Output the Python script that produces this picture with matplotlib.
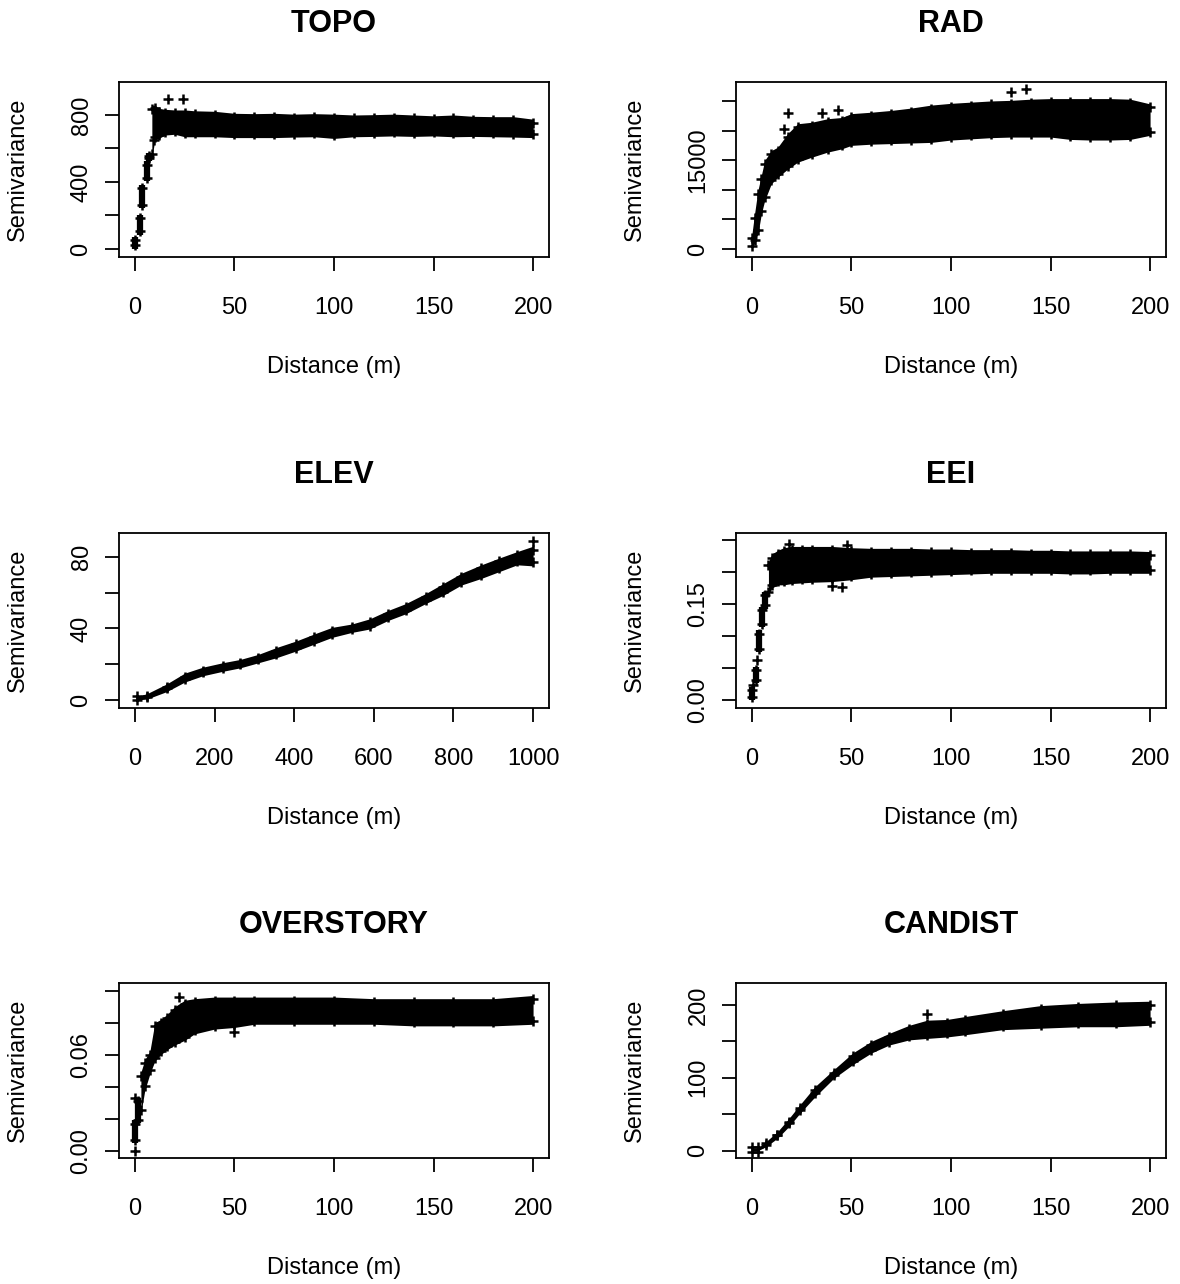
import matplotlib
matplotlib.use("Agg")
import matplotlib.pyplot as plt
from matplotlib.transforms import ScaledTranslation

plt.rcParams['font.family'] = ['Liberation Sans', 'DejaVu Sans']

# ---- data ----------------------------------------------------------------
# each panel: dense band (lower/upper edge of the point cloud),
# discrete lag clusters near the origin, and a few isolated points

# TOPO
topo_band_d = [8.5, 10, 12, 15, 20, 25, 30, 40, 50, 60, 70, 80, 90, 100, 110, 120,
               130, 140, 150, 160, 170, 180, 190, 200]
topo_band_lo = [544, 650, 660, 680, 685, 670, 670, 670, 665, 665, 665, 668, 670, 660,
                670, 672, 675, 672, 675, 670, 672, 670, 668, 665]
topo_band_hi = [854, 860, 840, 834, 830, 830, 825, 822, 810, 808, 810, 805, 808, 805,
                800, 802, 805, 800, 795, 800, 792, 790, 790, 775]
topo_bar_d = [0, 2.5, 3.7, 5.9, 7.2]
topo_bar_lo = [0, 84, 244, 404, 524]
topo_bar_hi = [74, 204, 384, 524, 574]
topo_out_d = [16.8, 23.9, 9.7]
topo_out_y = [894, 894, 650]

# RAD
rad_band_d = [0, 1.3, 3, 4.7, 6.4, 9.7, 13, 18, 23, 30, 38, 45, 50, 60, 70, 80, 90,
              100, 110, 120, 130, 140, 150, 160, 170, 180, 190, 200]
rad_band_lo = [0, 1000, 2540, 5900, 8180, 11000, 12130, 13500, 14660, 15500, 16360,
               16900, 17500, 17700, 17800, 17900, 18000, 18400, 18600, 18800, 18900,
               18900, 18900, 18500, 18400, 18400, 18500, 19200]
rad_band_hi = [2500, 5900, 9900, 12400, 14950, 16600, 17200, 19500, 21150, 21400,
               22000, 22200, 22860, 23100, 23400, 23800, 24300, 24600, 24800, 25000,
               25100, 25300, 25400, 25400, 25400, 25400, 25300, 24500]
rad_out_d = [16, 18, 35, 43, 130, 137.5]
rad_out_y = [20300, 23000, 23000, 23500, 26500, 27100]

# ELEV
elev_band_d = [5, 30, 80, 125, 170, 220, 265, 310, 355, 405, 450, 495, 545, 590, 635,
               680, 730, 775, 820, 870, 915, 960, 1000]
elev_band_lo = [0, 0.5, 4.7, 10.0, 13.5, 16, 18, 20.8, 23.6, 27.4, 31.2, 35, 37.8,
                39.7, 44.4, 48.2, 53.9, 58.6, 64.3, 68, 71.8, 75.6, 75]
elev_band_hi = [2, 3.5, 9.0, 15.0, 18.3, 20.8, 22.7, 25.5, 29.3, 33, 36.9, 40.6, 42.5,
                45.4, 50, 53.9, 59.5, 65.2, 70.9, 75.6, 79.4, 83, 86]
elev_out_d = [1000]
elev_out_y = [88.8]

# EEI
eei_band_d = [8.3, 10, 13, 16, 20, 25, 30, 40, 50, 60, 70, 80, 90, 100, 110, 120, 130,
              140, 150, 160, 170, 180, 190, 200]
eei_band_lo = [0.164, 0.175, 0.180, 0.180, 0.182, 0.183, 0.184, 0.185, 0.188, 0.192,
               0.193, 0.194, 0.195, 0.196, 0.197, 0.198, 0.198, 0.198, 0.198, 0.197,
               0.197, 0.198, 0.198, 0.198]
eei_band_hi = [0.216, 0.228, 0.234, 0.238, 0.240, 0.240, 0.240, 0.240, 0.238, 0.237,
               0.237, 0.237, 0.236, 0.236, 0.235, 0.235, 0.235, 0.234, 0.234, 0.233,
               0.233, 0.233, 0.233, 0.232]
eei_bar_d = [0, 2.2, 3.6, 5.0, 6.7]
eei_bar_lo = [0.0, 0.026, 0.075, 0.114, 0.143]
eei_bar_hi = [0.021, 0.052, 0.109, 0.146, 0.169]
eei_out_d = [2.5, 0.5, 18.5, 48, 40, 45]
eei_out_y = [0.0625, 0.023, 0.244, 0.243, 0.178, 0.176]

# OVERSTORY
over_band_d = [3, 5, 7.5, 10, 13, 16, 20, 25, 30, 40, 50, 60, 80, 100, 120, 140, 160,
               180, 200]
over_band_lo = [0.0235, 0.038, 0.048, 0.056, 0.060, 0.063, 0.066, 0.069, 0.073, 0.076,
                0.077, 0.079, 0.079, 0.079, 0.079, 0.078, 0.078, 0.078, 0.079]
over_band_hi = [0.049, 0.057, 0.062, 0.080, 0.082, 0.085, 0.090, 0.094, 0.095, 0.096,
                0.096, 0.096, 0.096, 0.096, 0.095, 0.095, 0.095, 0.095, 0.097]
over_bar_d = [0, 1.5]
over_bar_lo = [0.0046, 0.017]
over_bar_hi = [0.019, 0.033]
over_out_d = [0, 0, 22, 50]
over_out_y = [0.0, 0.033, 0.096, 0.074]

# CANDIST
cand_band_d = [0, 3, 7, 12.8, 18.5, 24, 31.7, 41, 50.6, 60, 69, 79, 88, 98, 107, 126,
               145, 164, 183, 200]
cand_band_lo = [0, 0, 5.5, 17, 33, 51, 74, 99, 118, 134, 145, 152, 154, 156, 159, 166,
                168, 170, 170, 172]
cand_band_hi = [3, 3, 12.4, 26, 44, 62.7, 88, 111, 134, 150, 161, 172, 179, 180, 184,
                192, 199, 202, 204, 205]
cand_out_d = [88]
cand_out_y = [187]

# axes ticks
dist_ticks = [0, 50, 100, 150, 200]
elev_dist_ticks = [0, 200, 400, 600, 800, 1000]
topo_yticks = [0, 200, 400, 600, 800]
topo_ylabels = ['0', '', '400', '', '800']
rad_yticks = [0, 5000, 10000, 15000, 20000, 25000]
rad_ylabels = ['0', '', '', '15000', '', '']
elev_yticks = [0, 20, 40, 60, 80]
elev_ylabels = ['0', '', '40', '', '80']
eei_yticks = [0, 0.05, 0.10, 0.15, 0.20, 0.25]
eei_ylabels = ['0.00', '', '', '0.15', '', '']
over_yticks = [0, 0.02, 0.04, 0.06, 0.08, 0.10]
over_ylabels = ['0.00', '', '', '0.06', '', '']
cand_yticks = [0, 50, 100, 150, 200]
cand_ylabels = ['0', '', '100', '', '200']

panels = [
    dict(title='TOPO', band=(topo_band_d, topo_band_lo, topo_band_hi),
         bars=(topo_bar_d, topo_bar_lo, topo_bar_hi), out=(topo_out_d, topo_out_y),
         xlim=(-8, 208), ylim=(-48, 997), xt=dist_ticks, yt=topo_yticks, yl=topo_ylabels),
    dict(title='RAD', band=(rad_band_d, rad_band_lo, rad_band_hi),
         bars=None, out=(rad_out_d, rad_out_y),
         xlim=(-8, 208), ylim=(-1350, 28200), xt=dist_ticks, yt=rad_yticks, yl=rad_ylabels),
    dict(title='ELEV', band=(elev_band_d, elev_band_lo, elev_band_hi),
         bars=None, out=(elev_out_d, elev_out_y),
         xlim=(-40, 1040), ylim=(-4.5, 93.4), xt=elev_dist_ticks, yt=elev_yticks, yl=elev_ylabels),
    dict(title='EEI', band=(eei_band_d, eei_band_lo, eei_band_hi),
         bars=(eei_bar_d, eei_bar_lo, eei_bar_hi), out=(eei_out_d, eei_out_y),
         xlim=(-8, 208), ylim=(-0.0125, 0.261), xt=dist_ticks, yt=eei_yticks, yl=eei_ylabels),
    dict(title='OVERSTORY', band=(over_band_d, over_band_lo, over_band_hi),
         bars=(over_bar_d, over_bar_lo, over_bar_hi), out=(over_out_d, over_out_y),
         xlim=(-8, 208), ylim=(-0.0046, 0.1048), xt=dist_ticks, yt=over_yticks, yl=over_ylabels),
    dict(title='CANDIST', band=(cand_band_d, cand_band_lo, cand_band_hi),
         bars=None, out=(cand_out_d, cand_out_y),
         xlim=(-8, 208), ylim=(-10, 230), xt=dist_ticks, yt=cand_yticks, yl=cand_ylabels),
]

W, H = 1180, 1284
fig = plt.figure(figsize=(W / 100, H / 100), dpi=100)

col_left = [119, 736]
row_top = [82, 533, 983]
box_w, box_h = 430, 175

pm = dict(marker='+', ls='none', color='black', ms=6.5, mew=1.8)

for i, p in enumerate(panels):
    r, c = divmod(i, 2)
    ax = fig.add_axes([col_left[c] / W, 1 - (row_top[r] + box_h) / H, box_w / W, box_h / H])

    d, lo, hi = p['band']
    ax.fill_between(d, lo, hi, color='black', lw=0)
    # ragged edges of the cloud, nudged inward a little
    up = ax.transData + ScaledTranslation(0, -2.5 / 72, fig.dpi_scale_trans)
    dn = ax.transData + ScaledTranslation(0, 2.5 / 72, fig.dpi_scale_trans)
    ax.plot(d, hi, transform=up, **pm)
    ax.plot(d, lo, transform=dn, **pm)

    if p['bars'] is not None:
        bd, blo, bhi = p['bars']
        ax.vlines(bd, blo, bhi, colors='black', lw=4.5)
        ax.plot(bd, bhi, transform=up, **pm)
        ax.plot(bd, blo, transform=dn, **pm)

    od, oy = p['out']
    ax.plot(od, oy, **pm)

    ax.set_xlim(*p['xlim'])
    ax.set_ylim(*p['ylim'])
    ax.set_xticks(p['xt'])
    ax.set_xticklabels([str(t) for t in p['xt']])
    ax.set_yticks(p['yt'])
    ax.set_yticklabels(p['yl'], rotation=90, va='center')
    ax.tick_params(axis='both', length=10, width=1.3, labelsize=17)
    ax.tick_params(axis='x', pad=19)
    ax.tick_params(axis='y', pad=9)
    for s in ax.spines.values():
        s.set_linewidth(1.3)

    ax.set_xlabel('Distance (m)', fontsize=17)
    ax.xaxis.label.set_va('center')
    ax.xaxis.set_label_coords(0.5, -110 / box_h)
    ax.set_ylabel('Semivariance', fontsize=17)
    ax.yaxis.label.set_va('center')
    ax.yaxis.set_label_coords(-101 / box_w, 0.5)

    ax.text(0.5, 1 + 58 / box_h, p['title'], transform=ax.transAxes,
            ha='center', va='center', fontsize=22, fontweight='bold')

fig.savefig('out.png', dpi=100)
